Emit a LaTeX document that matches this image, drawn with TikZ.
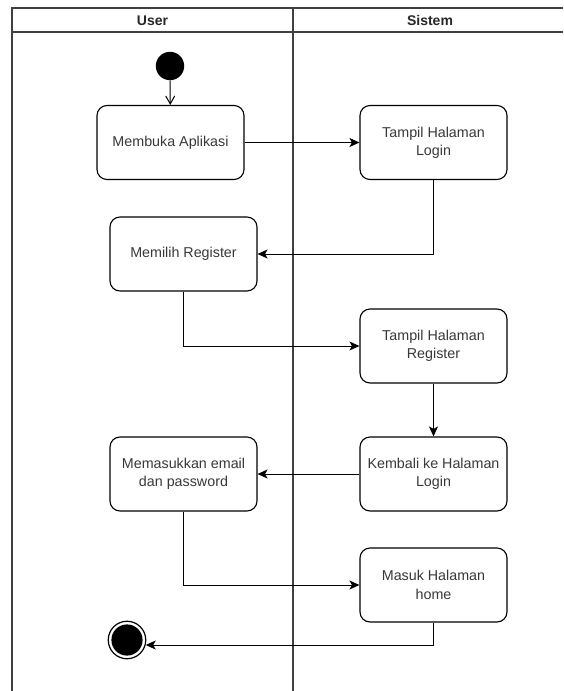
\documentclass[tikz,border=0pt]{standalone}
\usepackage{fontspec}
\setmainfont{Liberation Sans}
\usetikzlibrary{arrows.meta}
\begin{document}
\begin{tikzpicture}[x=1pt,y=-1pt,
  lane/.style={line width=1.5pt, draw=black!75},
  head/.style={font=\bfseries\fontsize{14}{17}\selectfont, text=black!85},
  act/.style={draw=black, line width=1.1pt, rounded corners=10pt,
    minimum width=147pt, minimum height=74pt, align=center, inner sep=0pt,
    text=black!78, font=\fontsize{14.3}{18.3}\selectfont},
  flow/.style={draw=black, line width=1pt, -{Stealth[length=10pt,width=9pt,inset=2.5pt]}},
  startflow/.style={draw=black, line width=1pt, -{Straight Barb[length=8pt,width=9pt]}},
  initial/.style={circle, fill=black, minimum size=28.4pt, inner sep=0pt},
  final/.style={circle, draw=black, fill=white, line width=1.2pt, minimum size=37.5pt, inner sep=0pt,
    path picture={\fill[black] (path picture bounding box.center) circle (15.6pt);}}
]
\useasboundingbox (0,0) rectangle (563,691);

% swimlane frame
\draw[lane] (12,691) -- (12,8) -- (563,8);
\draw[lane] (12,32) -- (563,32);
\draw[lane] (293,8) -- (293,691);
\node[head] (hu) at (152.5,20.5) {User};
\node[head] (hs) at (430,20.5) {Sistem};

% activities
\node[initial] (start) at (170,66) {};
\node[act] (membuka) at (170.5,142.5) {Membuka Aplikasi};
\node[act] (tlogin) at (433.5,142.5) {Tampil Halaman\\Login};
\node[act] (memilih) at (183.5,254) {Memilih Register};
\node[act] (treg) at (433.5,346) {Tampil Halaman\\Register};
\node[act] (kembali) at (433.5,474) {Kembali ke Halaman\\Login};
\node[act] (masukkan) at (183.5,474) {Memasukkan email\\dan password};
\node[act] (home) at (433.5,585) {Masuk Halaman\\home};
\node[final] (stop) at (127,640) {};

% control flow
\draw[startflow] (start) -- (membuka);
\draw[flow] (membuka) -- (tlogin);
\draw[flow] (tlogin.south) |- (memilih.east);
\draw[flow] (memilih.south) |- (treg.west);
\draw[flow] (treg) -- (kembali);
\draw[flow] (kembali) -- (masukkan);
\draw[flow] (masukkan.south) |- (home.west);
\draw[flow] (home.south) |- (stop.-15);
\end{tikzpicture}
\end{document}
